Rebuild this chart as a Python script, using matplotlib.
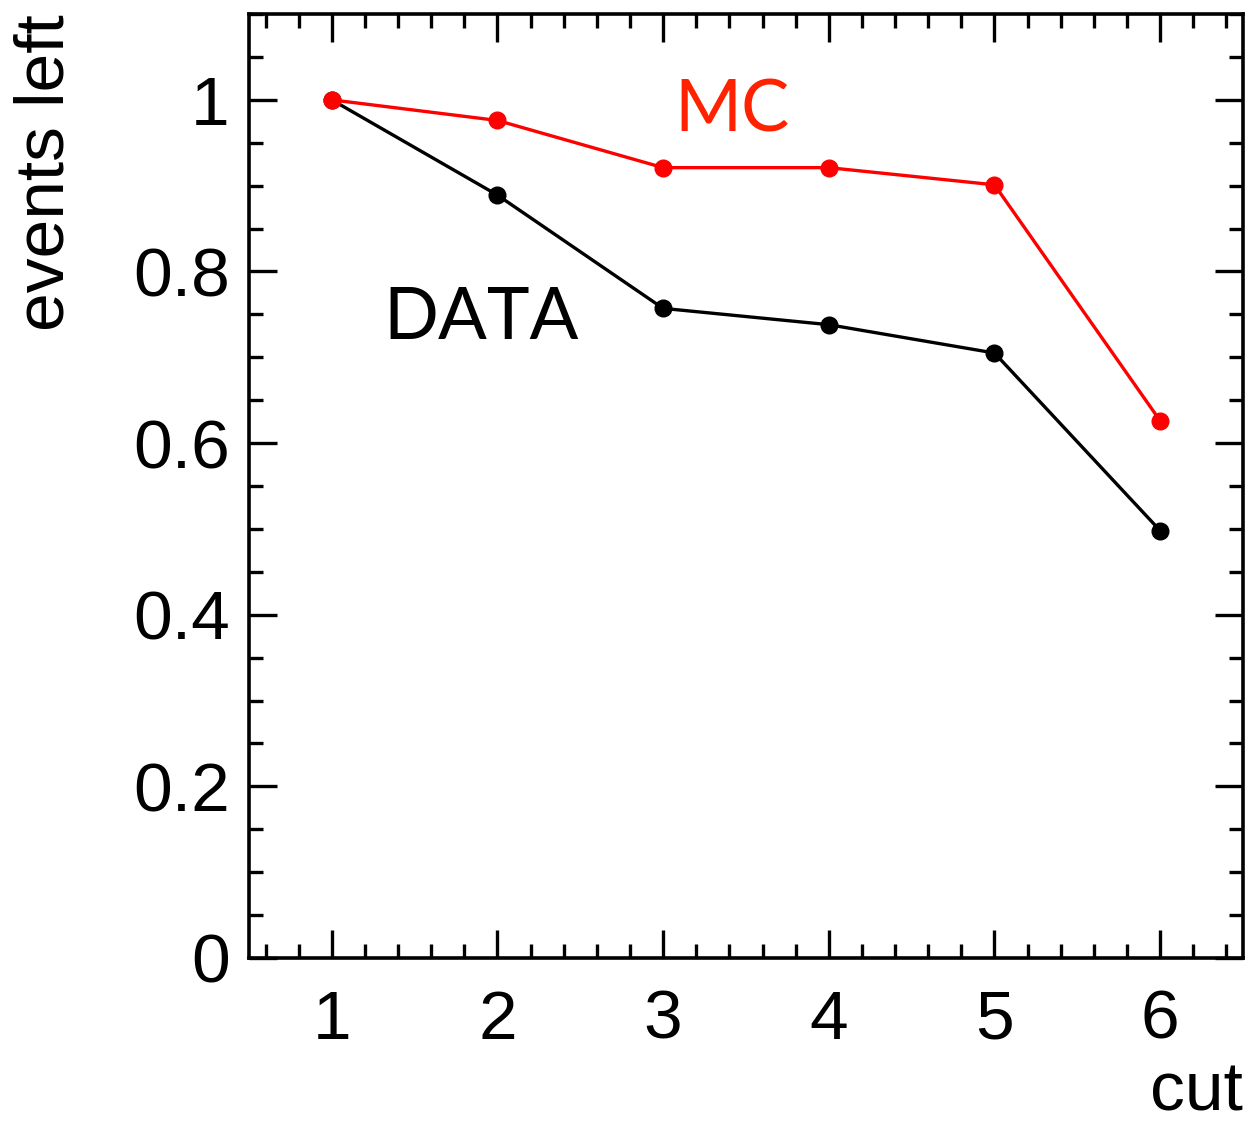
import matplotlib
matplotlib.use("Agg")
import matplotlib.pyplot as plt
from matplotlib.ticker import MultipleLocator

# values
cuts = [1, 2, 3, 4, 5, 6]
data_left = [1.0, 0.889, 0.757, 0.738, 0.705, 0.498]
mc_left = [1.0, 0.976, 0.921, 0.921, 0.901, 0.626]

plt.rcParams['font.family'] = ['Liberation Sans', 'DejaVu Sans']

fig = plt.figure(figsize=(12.51, 11.24), dpi=100)
ax = fig.add_axes([0.199, 0.1477, 0.7946, 0.8398])

ax.plot(cuts, data_left, color='black', lw=2.4, marker='o', ms=12, zorder=3)
ax.plot(cuts, mc_left, color='#ff0000', lw=2.4, marker='o', ms=12, zorder=4)

ax.text(1.31, 0.745, 'DATA', fontsize=52, color='black', family=['Lato', 'DejaVu Sans'],
        ha='left', va='center')
ax.text(3.07, 0.987, 'MC', fontsize=52, color='#ff2200', family=['Lato', 'DejaVu Sans'],
        ha='left', va='center')

ax.set_xlim(0.5, 6.5)
ax.set_ylim(0, 1.1)
ax.xaxis.set_major_locator(MultipleLocator(1))
ax.xaxis.set_minor_locator(MultipleLocator(0.2))
ax.yaxis.set_major_locator(MultipleLocator(0.2))
ax.yaxis.set_minor_locator(MultipleLocator(0.05))
ax.set_yticks([0, 0.2, 0.4, 0.6, 0.8, 1.0])
ax.set_yticklabels(['0', '0.2', '0.4', '0.6', '0.8', '1'])

ax.tick_params(which='both', direction='in', top=True, right=True, width=2.4, labelsize=50)
ax.tick_params(which='major', length=20)
ax.tick_params(which='minor', length=10)
ax.tick_params(axis='x', pad=22)
ax.tick_params(axis='y', pad=14)
for s in ax.spines.values():
    s.set_linewidth(2.6)

ax.set_xlabel('cut', fontsize=50, loc='right', labelpad=6)
ax.set_ylabel('events left', fontsize=50, loc='top', labelpad=40)

fig.savefig('out.png', dpi=100)
